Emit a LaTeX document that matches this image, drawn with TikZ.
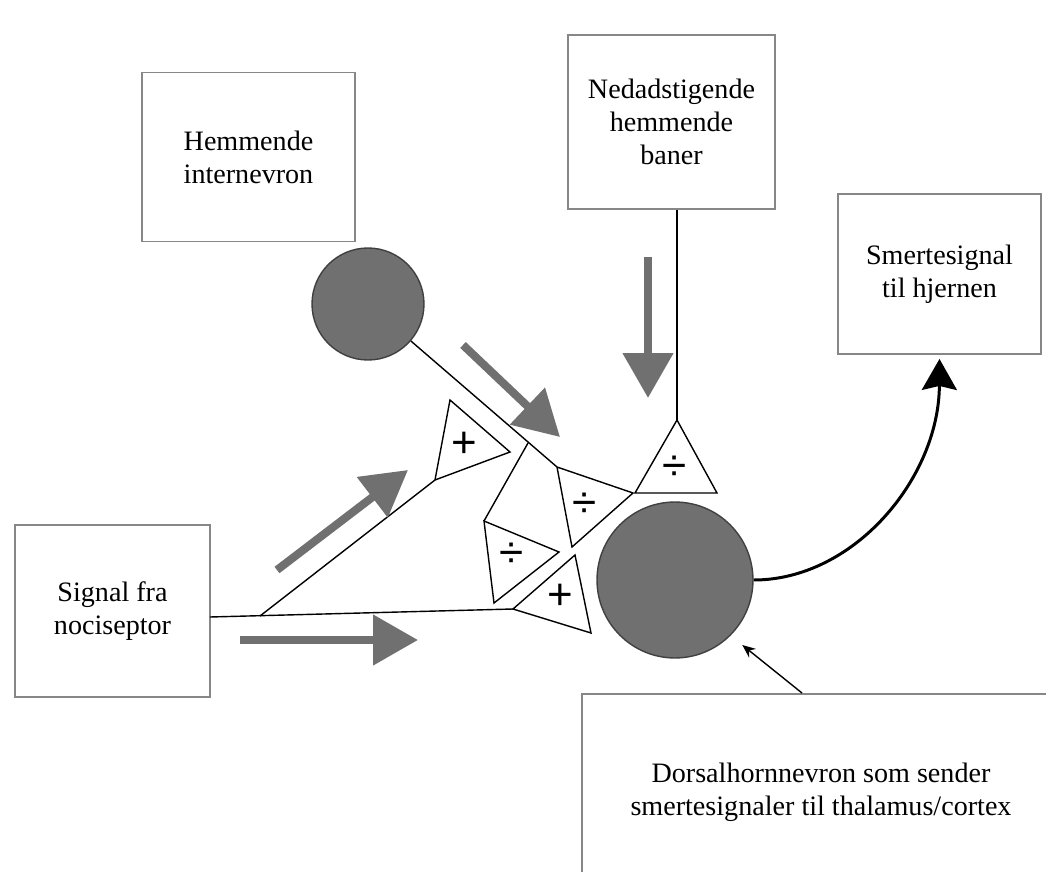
\documentclass[tikz,border=0pt]{standalone}
\usepackage{fontspec}
\setmainfont{Liberation Serif}
\setsansfont{Liberation Sans}
\usetikzlibrary{arrows.meta}
\tikzset{every picture/.style={line width=0.75pt}}
\definecolor{nevrongraa}{RGB}{112,112,112}
\definecolor{boksgraa}{RGB}{135,135,135}
\tikzset{
  boks/.style={draw=boksgraa, line width=1.1pt, align=center, inner sep=0pt},
  nevron/.style={circle, draw=black!75, line width=0.8pt, fill=nevrongraa, inner sep=0pt},
  synapse/.style={draw, line width=0.8pt, fill=white, line join=miter},
  tegn/.style={font=\sffamily\fontsize{25}{25}\selectfont, inner sep=0pt},
  graapil/.style={draw=nevrongraa, line width=4.6pt, -{Triangle[length=0.9cm, width=0.98cm]}}
}

\begin{document}
\begin{tikzpicture}[x=0.02cm, y=-0.02cm, every node/.style={font=\fontsize{16}{18.7}\selectfont}]
    \useasboundingbox (0,0) rectangle (1046,872);
    \clip (0,0) rectangle (1046,872);
    % bokser
    \node[boks, minimum width=4.26cm, minimum height=3.38cm] (hemmende) at (248.5,157) {Hemmende\\internevron};
    \node[boks, minimum width=4.14cm, minimum height=3.48cm] (nedad)    at (671.5,122) {Nedadstigende\\hemmende\\baner};
    \node[boks, minimum width=4.06cm, minimum height=3.20cm] (smerte)   at (939.5,274) {Smertesignal\\til hjernen};
    \node[boks, minimum width=3.90cm, minimum height=3.44cm] (signal)   at (112.5,611) {Signal fra\\nociseptor};
    \node[boks, minimum width=9.56cm, minimum height=3.92cm] (dorsal)   at (821,792)   {Dorsalhornnevron som sender\\smertesignaler til thalamus/cortex};
    % nevroner
    \node[nevron, minimum size=2.24cm] (inter) at (368,304) {};
    \node[nevron, minimum size=3.12cm] (horn)  at (675,580) {};
    % synapser (hjørner)
    \coordinate (t1a) at (450,400); \coordinate (t1b) at (510,452); \coordinate (t1c) at (435,480);
    \coordinate (t2a) at (557,467); \coordinate (t2b) at (633,493); \coordinate (t2c) at (572,547);
    \coordinate (t3a) at (484,521); \coordinate (t3b) at (559,552); \coordinate (t3c) at (494,603);
    \coordinate (t4a) at (513,609); \coordinate (t4b) at (575,555); \coordinate (t4c) at (591,633);
    \coordinate (t5a) at (677,420); \coordinate (t5b) at (635,493); \coordinate (t5c) at (717,493);
    \coordinate (gren1) at (528,443);
    \coordinate (sigut) at (210,617);
    \coordinate (gren2) at (260,616);
    % nervebaner
    \draw[line width=0.8pt] (inter) -- (t2a);
    \draw[line width=0.8pt] (gren1) -- (t3a);
    \draw[line width=0.8pt] (sigut) -- (t4a);
    \draw[line width=0.8pt] (gren2) -- (t1c);
    \draw[line width=0.8pt] (nedad.south -| t5a) -- (t5a);
    \draw[synapse] (t1a) -- (t1b) -- (t1c) -- cycle;
    \draw[synapse] (t2a) -- (t2b) -- (t2c) -- cycle;
    \draw[synapse] (t3a) -- (t3b) -- (t3c) -- cycle;
    \draw[synapse] (t4a) -- (t4b) -- (t4c) -- cycle;
    \draw[synapse] (t5a) -- (t5b) -- (t5c) -- cycle;
    \node[tegn] (s1) at (464,445) {+};
    \node[tegn] (s2) at (585,505) {÷};
    \node[tegn] (s3) at (512,555) {÷};
    \node[tegn] (s4) at (560,597) {+};
    \node[tegn] (s5) at (675,468) {÷};
    % grå piler
    \draw[graapil] (463,345) -- (560,437);
    \draw[graapil] (648,257) -- (648,398);
    \draw[graapil] (277,570) -- (408,470);
    \draw[graapil] (240,640) -- (418,640);
    % utgang
    \draw[line width=1.7pt, -{Stealth[length=0.62cm, width=0.7cm, inset=0.08cm]}]
        (horn.east) .. controls (854,580) and (939,478) .. ([yshift=-0.08cm]smerte.south);
    \draw[line width=0.8pt, -{Stealth[length=0.26cm, width=0.22cm]}, shorten >=0.3cm]
        ([xshift=4.42cm]dorsal.north west) -- (horn.-45);
\end{tikzpicture}
\end{document}
